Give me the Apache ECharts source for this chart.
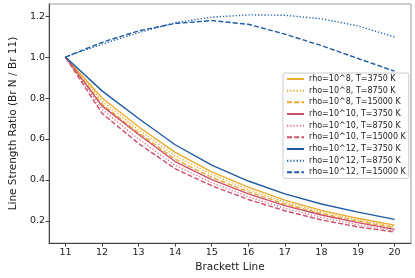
<!DOCTYPE html>
<html><head><meta charset="utf-8">
<script src="https://cdn.jsdelivr.net/npm/echarts@6/dist/echarts.min.js"></script>
<style>html,body{margin:0;padding:0;background:#fff}#c{width:415px;height:278px}</style>
</head><body><div id="c"></div>
<script>
const lines = [11,12,13,14,15,16,17,18,19,20];
const xTicks = [11,12,13,14,15,16,17,18,19,20];
const yTicks = [0.2,0.4,0.6,0.8,1.0,1.2];
const names = [
 'rho=10^8, T=3750 K','rho=10^8, T=8750 K','rho=10^8, T=15000 K',
 'rho=10^10, T=3750 K','rho=10^10, T=8750 K','rho=10^10, T=15000 K',
 'rho=10^12, T=3750 K','rho=10^12, T=8750 K','rho=10^12, T=15000 K'];
const r8_3750  = [1.0,0.800,0.660,0.535,0.440,0.365,0.302,0.252,0.213,0.180];
const r8_8750  = [1.0,0.785,0.645,0.518,0.427,0.353,0.292,0.244,0.206,0.173];
const r8_15000 = [1.0,0.770,0.630,0.502,0.413,0.342,0.283,0.236,0.199,0.167];
const r10_3750  = [1.0,0.762,0.622,0.490,0.402,0.332,0.275,0.229,0.192,0.159];
const r10_8750  = [1.0,0.745,0.600,0.472,0.387,0.318,0.262,0.217,0.181,0.152];
const r10_15000 = [1.0,0.725,0.578,0.455,0.372,0.305,0.250,0.205,0.171,0.146];
const r12_3750  = [1.0,0.835,0.700,0.572,0.473,0.395,0.332,0.283,0.243,0.208];
const r12_8750  = [1.0,1.063,1.119,1.168,1.195,1.206,1.204,1.187,1.152,1.098];
const r12_15000 = [1.0,1.072,1.128,1.164,1.178,1.160,1.112,1.056,0.993,0.931];
const values = [r8_3750,r8_8750,r8_15000,r10_3750,r10_8750,r10_15000,r12_3750,r12_8750,r12_15000];
const colors = ['#e8ac32','#e8ac32','#e8ac32','#cc4f6c','#d67a8f','#cc4f6c','#1f5aa3','#2a66ad','#1f5aa3'];
const types = ['solid',[1.3,1.9],[5,2.2],'solid',[1.3,1.9],[5,2.2],'solid',[1.3,1.9],[5,2.2]];
const chart = echarts.init(document.getElementById('c'), null, {renderer:'canvas'});
const FONT = 'DejaVu Sans';
const series = names.map((n,i)=>({
  name:n, type:'line', symbol:'none', showSymbol:false, smooth:false,
  data: lines.map((x,j)=>[x, values[i][j]]),
  lineStyle:{color:colors[i], width:1.4, type:types[i]},
  itemStyle:{color:colors[i]}, z: 2+i, animation:false
}));
chart.setOption({
  animation:false,
  grid:{left:34, right:4, top:4, bottom:29, show:true, borderColor:'#999', borderWidth:1, backgroundColor:'#fff'},
  xAxis:{type:'value', min:10.55, max:20.45,
    name:'Brackett Line', nameLocation:'middle', nameGap:18,
    nameTextStyle:{fontFamily:FONT, fontSize:10.5, color:'#222'},
    axisLine:{show:true, lineStyle:{color:'#444', width:1}},
    axisTick:{show:true, length:3.5, inside:false, lineStyle:{color:'#444'}, customValues:xTicks},
    axisLabel:{fontFamily:FONT, fontSize:9.5, color:'#222', margin:4, customValues:xTicks, formatter:v=>String(v)},
    splitLine:{show:false}},
  yAxis:{type:'value', min:0.092, max:1.259,
    name:'Line Strength Ratio (Br N / Br 11)', nameLocation:'middle', nameGap:23, nameRotate:90,
    nameTextStyle:{fontFamily:FONT, fontSize:10.5, color:'#222'},
    axisLine:{show:true, lineStyle:{color:'#444', width:1}},
    axisTick:{show:true, length:3.5, inside:false, lineStyle:{color:'#444'}, customValues:yTicks},
    axisLabel:{fontFamily:FONT, fontSize:9.5, color:'#222', margin:4, customValues:yTicks, formatter:v=>v.toFixed(1)},
    splitLine:{show:false}},
  legend:{orient:'vertical', left:283, top:73, data:names,
    itemWidth:17, itemHeight:8, itemGap:3.67, itemTextGap:5,
    itemStyle:{opacity:0},
    padding:[2,3,2,3], backgroundColor:'#fff', borderColor:'#ccc', borderWidth:1, borderRadius:2,
    textStyle:{fontFamily:FONT, fontSize:8, color:'#222', lineHeight:8}},
  series: series
});
</script></body></html>
